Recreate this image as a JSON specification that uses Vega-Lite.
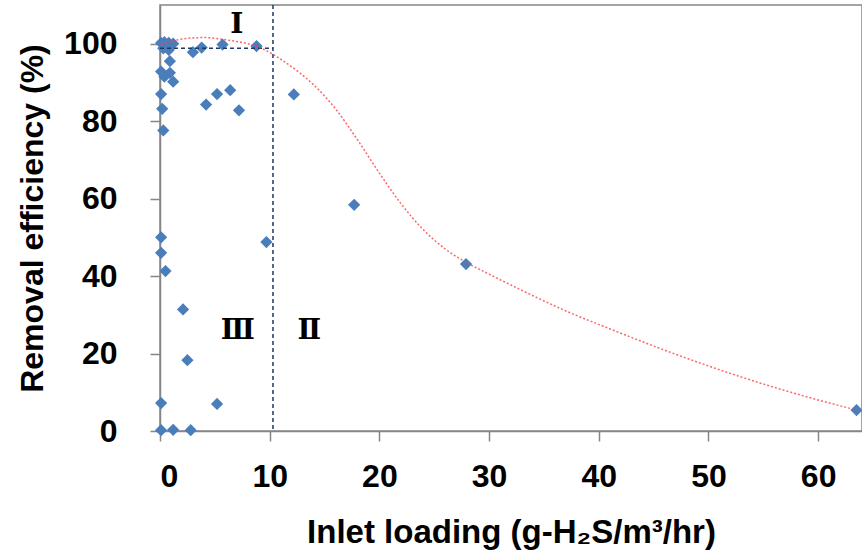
{
  "$schema": "https://vega.github.io/schema/vega-lite/v6.json",
  "width": 702,
  "height": 426,
  "autosize": "none",
  "padding": {"left": 160, "top": 5, "right": 0, "bottom": 129},
  "background": "white",
  "config": {
    "view": {"stroke": "#868686", "strokeWidth": 1.5},
    "font": "Liberation Sans",
    "axis": {
      "grid": false,
      "domainColor": "#868686",
      "domainWidth": 1.5,
      "tickColor": "#868686",
      "tickWidth": 1.5,
      "tickSize": 10,
      "labelFont": "Liberation Sans",
      "labelFontSize": 32,
      "labelFontWeight": "bold",
      "labelColor": "#000000",
      "titleFont": "Liberation Sans",
      "titleFontSize": 32,
      "titleFontWeight": "bold",
      "titleColor": "#000000"
    }
  },
  "datasets": {
    "points": [
      {"x": 0.1, "y": 100.2}, {"x": 0.4, "y": 100.4}, {"x": 0.8, "y": 100.2}, {"x": 1.2, "y": 100.0},
      {"x": 0.3, "y": 98.8}, {"x": 0.8, "y": 98.4},
      {"x": 3.0, "y": 97.8}, {"x": 3.8, "y": 99.0}, {"x": 5.7, "y": 99.8}, {"x": 8.8, "y": 99.4},
      {"x": 0.9, "y": 95.5}, {"x": 0.1, "y": 92.8}, {"x": 0.9, "y": 92.5}, {"x": 0.4, "y": 91.5}, {"x": 1.2, "y": 90.2},
      {"x": 0.1, "y": 87.0}, {"x": 0.2, "y": 83.2}, {"x": 0.3, "y": 77.6},
      {"x": 5.2, "y": 87.0}, {"x": 6.4, "y": 88.0}, {"x": 4.2, "y": 84.3}, {"x": 7.2, "y": 82.8},
      {"x": 12.2, "y": 86.9}, {"x": 17.7, "y": 58.4}, {"x": 27.9, "y": 43.1}, {"x": 63.5, "y": 5.4},
      {"x": 0.1, "y": 50.0}, {"x": 0.1, "y": 46.0}, {"x": 0.5, "y": 41.3}, {"x": 9.7, "y": 48.8},
      {"x": 2.1, "y": 31.4}, {"x": 2.5, "y": 18.3}, {"x": 0.1, "y": 7.2}, {"x": 5.2, "y": 7.0},
      {"x": 0.1, "y": 0.2}, {"x": 1.2, "y": 0.3}, {"x": 2.8, "y": 0.2}
    ],
    "curve": [
      {"x": 0.1, "y": 99.8}, {"x": 1, "y": 100.6}, {"x": 2, "y": 101.2}, {"x": 3, "y": 101.5},
      {"x": 4, "y": 101.6}, {"x": 5, "y": 101.4}, {"x": 6.5, "y": 100.8}, {"x": 8, "y": 100.0},
      {"x": 9.5, "y": 98.5}, {"x": 11, "y": 96.0}, {"x": 12.5, "y": 93.0}, {"x": 14, "y": 89.4},
      {"x": 16, "y": 83.2}, {"x": 18, "y": 75.2}, {"x": 20, "y": 66.6}, {"x": 22, "y": 58.6},
      {"x": 24, "y": 52.0}, {"x": 26, "y": 47.0}, {"x": 28, "y": 43.4}, {"x": 30, "y": 40.5},
      {"x": 33, "y": 36.3}, {"x": 37, "y": 31.0}, {"x": 41, "y": 26.4}, {"x": 45.6, "y": 21.3},
      {"x": 50, "y": 16.8}, {"x": 54.7, "y": 12.4}, {"x": 59, "y": 8.8}, {"x": 63.5, "y": 5.4}
    ],
    "vline": [{"x": 10.3}],
    "hline": [{"y": 98.8, "x": 0, "x2": 10.3}],
    "labels": [
      {"x": 7.0, "y": 104.8, "label": "Ⅰ"},
      {"x": 7.1, "y": 25.9, "label": "Ⅲ"},
      {"x": 13.6, "y": 25.9, "label": "Ⅱ"}
    ]
  },
  "layer": [
    {
      "data": {"name": "points"},
      "mark": {"type": "point", "shape": "diamond", "filled": true, "size": 150, "color": "#4a7ebb", "opacity": 1},
      "encoding": {
        "x": {
          "field": "x", "type": "quantitative",
          "scale": {"domain": [0, 64], "nice": false, "zero": false},
          "axis": {"values": [0, 10, 20, 30, 40, 50, 60], "title": "Inlet loading (g-H₂S/m³/hr)", "titleFontSize": 33, "labelPadding": 20, "titlePadding": 24}
        },
        "y": {
          "field": "y", "type": "quantitative",
          "scale": {"domain": [0, 110], "nice": false, "zero": false},
          "axis": {"values": [0, 20, 40, 60, 80, 100], "title": "Removal efficiency (%)", "labelPadding": 33, "titlePadding": 14}
        }
      }
    },
    {
      "data": {"name": "vline"},
      "mark": {"type": "rule", "color": "#1f3864", "strokeWidth": 1.5, "strokeDash": [4, 3]},
      "encoding": {"x": {"field": "x", "type": "quantitative"}}
    },
    {
      "data": {"name": "hline"},
      "mark": {"type": "rule", "color": "#1f3864", "strokeWidth": 1.5, "strokeDash": [4, 3]},
      "encoding": {
        "y": {"field": "y", "type": "quantitative"},
        "x": {"field": "x", "type": "quantitative"},
        "x2": {"field": "x2"}
      }
    },
    {
      "data": {"name": "curve"},
      "mark": {"type": "line", "color": "#ff4040", "strokeWidth": 1.5, "strokeDash": [2, 2], "opacity": 0.8, "interpolate": "monotone"},
      "encoding": {
        "x": {"field": "x", "type": "quantitative"},
        "y": {"field": "y", "type": "quantitative"}
      }
    },
    {
      "data": {"name": "labels"},
      "mark": {"type": "text", "font": "DejaVu Serif", "fontWeight": "bold", "fontSize": 28, "align": "center", "baseline": "middle", "color": "#000000"},
      "encoding": {
        "x": {"field": "x", "type": "quantitative"},
        "y": {"field": "y", "type": "quantitative"},
        "text": {"field": "label"}
      }
    }
  ]
}
